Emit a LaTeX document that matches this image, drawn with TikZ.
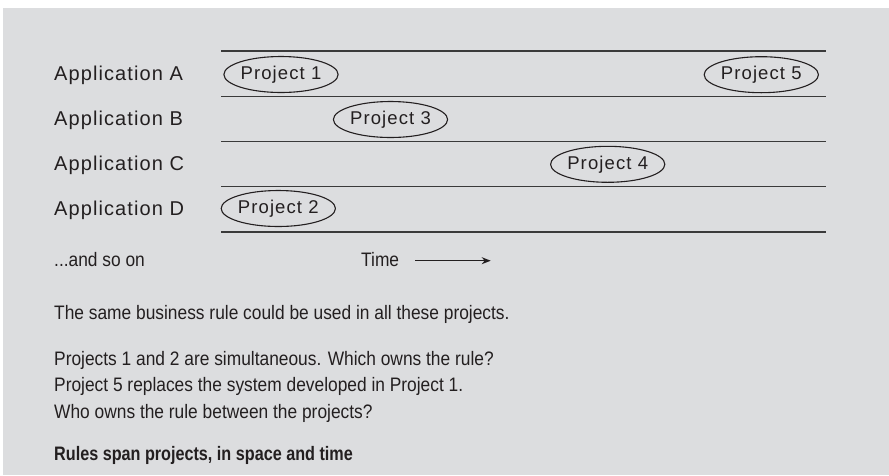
\documentclass[tikz,border=0pt]{standalone}
\usepackage{fontspec}
\setmainfont{Liberation Sans}
\newfontfamily\widefont[LetterSpace=5.5]{Liberation Sans}
\newfontfamily\projfont[LetterSpace=6]{Liberation Sans}
\newfontfamily\condfont[FakeStretch=0.89]{Liberation Sans}
\newfontfamily\condbold[FakeStretch=0.83]{Liberation Sans Bold}
\usetikzlibrary{shapes.geometric,arrows.meta}
\definecolor{bg}{HTML}{DCDDDF}
\definecolor{ink}{HTML}{231F20}
\definecolor{rule}{HTML}{3A3A3A}
\begin{document}
\begin{tikzpicture}[x=1pt,y=-1pt,
  lbl/.style={anchor=base west,inner sep=0pt,text=ink,font=\widefont\fontsize{20}{22}\selectfont},
  body/.style={anchor=base west,inner sep=0pt,text=ink,font=\condfont\fontsize{19.5}{22}\selectfont},
  proj/.style={ellipse,draw=ink,line width=1.1pt,minimum width=107pt,minimum height=36pt,inner sep=0pt,text=ink,font=\projfont\fontsize{18.5}{20}\selectfont},
  lane/.style={draw=rule,line width=1.5pt}]
\useasboundingbox (0,0) rectangle (889,475);
\fill[white] (0,0) rectangle (889,475);
\fill[bg] (3,8) rectangle (889,475);
% lane lines
\foreach \y [count=\i] in {51,96.5,141.5,186.7,232}{
  \coordinate (l\i) at (221,\y);
  \coordinate (r\i) at (826,\y);
  \draw[lane] (l\i) -- (r\i);
}
% labels
\node[lbl] (appA) at (54,80.7) {Application A};
\node[lbl] (appB) at (54,125.7) {Application B};
\node[lbl] (appC) at (54,170.7) {Application C};
\node[lbl] (appD) at (54,215.7) {Application D};
% projects
\node[proj] (p1) at (281,74.5) {Project 1};
\node[proj] (p3) at (390.5,119.5) {Project 3};
\node[proj] (p4) at (607.7,164.3) {Project 4};
\node[proj] (p5) at (761.3,74.7) {Project 5};
\node[proj] (p2) at (278.3,208.5) {Project 2};
% time row
\node[body] (soon) at (54,266.7) {...and so on};
\node[body] (time) at (361,266.7) {Time};
\coordinate (ta) at (415,260.7);
\coordinate (tb) at (490.7,260.7);
\draw[ink,line width=1.2pt,-{Stealth[length=9pt,width=7pt]}] (ta) -- (tb);
% body text
\node[body] (t1) at (54,319.3) {The same business rule could be used in all these projects.};
\node[body] (t2) at (54,365) {Projects 1 and 2 are simultaneous. Which owns the rule?};
\node[body] (t3) at (54,391.7) {Project 5 replaces the system developed in Project 1.};
\node[body] (t4) at (54,418.3) {Who owns the rule between the projects?};
\node[body,font=\condbold\fontsize{19.5}{22}\selectfont] (t5) at (54,460) {Rules span projects, in space and time};
\end{tikzpicture}
\end{document}
